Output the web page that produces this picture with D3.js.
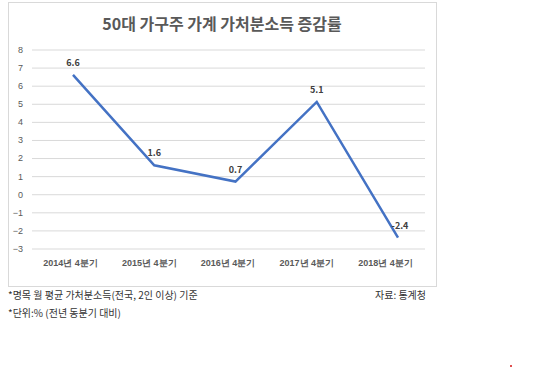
<!DOCTYPE html>
<html>
<head>
<meta charset="utf-8">
<script src="https://cdn.jsdelivr.net/npm/d3@7"></script>
<style>
  body { margin: 0; background: #fff; }
  svg { display: block; font-family: 'Noto Sans CJK KR', 'Noto Sans', sans-serif; }
</style>
</head>
<body>
<svg id="chart" width="540" height="376"></svg>
<script>
const categories = ['2014년 4분기', '2015년 4분기', '2016년 4분기', '2017년 4분기', '2018년 4분기'];
const values = [6.6, 1.6, 0.7, 5.1, -2.4];
const yTicks = [8, 7, 6, 5, 4, 3, 2, 1, 0, -1, -2, -3];
const title = '50대 가구주 가계 가처분소득 증감률';
const notes = ['*명목 월 평균 가처분소득(전국, 2인 이상) 기준', '*단위:% (전년 동분기 대비)'];
const source = '자료: 통계청';

const svg = d3.select('#chart');

// 차트 영역 테두리
svg.append('rect')
  .attr('x', 8.5).attr('y', 2.5)
  .attr('width', 428).attr('height', 284)
  .attr('fill', '#fff')
  .attr('stroke', '#d9d9d9');

svg.append('text')
  .attr('x', 222).attr('y', 30)
  .attr('text-anchor', 'middle')
  .attr('font-size', 16).attr('font-weight', 'bold')
  .attr('fill', '#595959')
  .text(title);

const y = d3.scaleLinear().domain([-3, 8]).range([248.5, 49.5]);
const x = d3.scalePoint().domain(categories).range([73, 398]);
// 축 라벨은 원본에서 약간 왼쪽으로 치우쳐 있음
const xLabel = d3.scalePoint().domain(categories).range([70, 385]);

// 그리드
const yAxis = d3.axisLeft(y).tickValues(yTicks).tickSize(-393).tickPadding(9).tickFormat(d3.format('d'));
const gy = svg.append('g').attr('transform', 'translate(32,0)').call(yAxis);
gy.select('.domain').remove();
gy.selectAll('line').attr('stroke', '#d9d9d9');
gy.selectAll('text').attr('font-size', 9).attr('fill', '#595959')
  .attr('font-family', "'Liberation Sans', 'Noto Sans', sans-serif");

const xAxis = d3.axisBottom(xLabel).tickSize(0).tickPadding(0);
const gx = svg.append('g').attr('transform', 'translate(0,260)').call(xAxis);
gx.select('.domain').remove();
gx.selectAll('text').attr('font-size', 9).attr('font-weight', 'bold').attr('fill', '#595959');

// 선
const line = d3.line().x((d, i) => x(categories[i])).y(d => y(d));
svg.append('path')
  .datum(values)
  .attr('fill', 'none')
  .attr('stroke', '#4472c4')
  .attr('stroke-width', 2.5)
  .attr('d', line);

// 데이터 라벨
svg.append('g').selectAll('text').data(values).enter()
  .append('text')
  .attr('x', (d, i) => x(categories[i]) + (d < 0 ? 2 : 0))
  .attr('y', d => y(d) - 9)
  .attr('text-anchor', 'middle')
  .attr('font-size', 9).attr('font-weight', 'bold')
  .attr('fill', '#404040')
  .text(d => d);

// 주석
svg.append('g').selectAll('text').data(notes).enter()
  .append('text')
  .attr('x', 8)
  .attr('y', (d, i) => 299 + i * 18)
  .attr('font-size', 10)
  .attr('fill', '#333')
  .text(d => d);

svg.append('text')
  .attr('x', 375).attr('y', 299)
  .attr('font-size', 10)
  .attr('fill', '#333')
  .text(source);

svg.append('rect')
  .attr('x', 510).attr('y', 365).attr('width', 2).attr('height', 2)
  .attr('fill', '#e05050');
</script>
</body>
</html>
